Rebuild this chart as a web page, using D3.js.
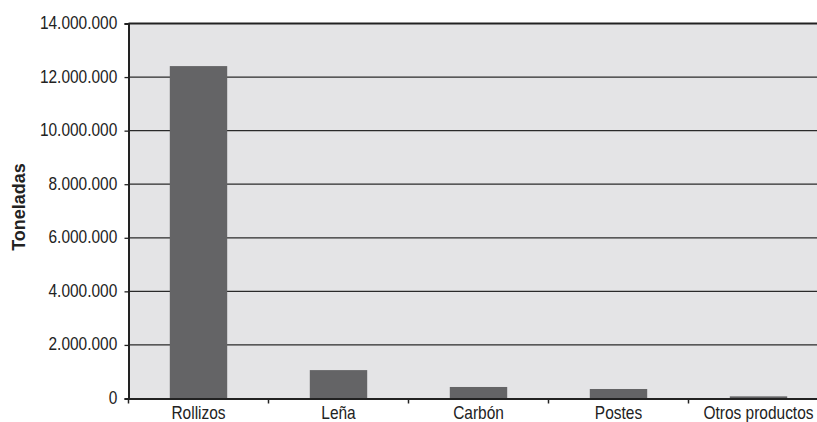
<!DOCTYPE html>
<html><head><meta charset="utf-8">
<script src="https://cdn.jsdelivr.net/npm/d3@7"></script>
<style>html,body{margin:0;padding:0;background:#fff;overflow:hidden}</style>
</head><body>
<svg id="c" width="817" height="422"></svg>
<script>
const categories = ["Rollizos","Leña","Carbón","Postes","Otros productos"];
const values = [12410000, 1060000, 430000, 355000, 80000];
const yTicks = [0,2000000,4000000,6000000,8000000,10000000,12000000,14000000];
const yLabel = "Toneladas";

const svg = d3.select("#c");
const L = 128.5, R = 828.5, T = 23.5, B = 398.5;
const x = d3.scaleBand().domain(categories).range([L, R]).paddingInner(0.59).paddingOuter(0.295);
const y = d3.scaleLinear().domain([0, 14000000]).range([B, T]);
const fmt = v => d3.format(",")(v).replace(/,/g, ".");
const font = "'Liberation Sans',Arial,sans-serif";
const SX = 0.86;

svg.append("rect").attr("x", L).attr("y", T).attr("width", R - L).attr("height", B - T).attr("fill", "#e4e4e6");

// gridlines
svg.append("g").selectAll("line").data(yTicks.filter(d => d > 0 && d < 14000000)).join("line")
  .attr("x1", L).attr("x2", R).attr("y1", d => y(d)).attr("y2", d => y(d))
  .attr("stroke", "#2a2a2a").attr("stroke-width", 1.3);

// bars
svg.append("g").selectAll("rect").data(categories).join("rect")
  .attr("x", d => x(d)).attr("width", x.bandwidth())
  .attr("y", (d, i) => y(values[i])).attr("height", (d, i) => B - y(values[i]))
  .attr("fill", "#646466");

// top border
svg.append("line").attr("x1", L).attr("x2", R).attr("y1", T).attr("y2", T).attr("stroke", "#222").attr("stroke-width", 2);

// y axis
const ya = d3.axisLeft(y).tickValues(yTicks).tickFormat(fmt).tickSize(4).tickPadding(7);
const gy = svg.append("g").attr("transform", `translate(${L},0)`).call(ya);
gy.select(".domain").attr("stroke", "#222").attr("stroke-width", 2);
gy.selectAll(".tick line").attr("stroke", "#222").attr("stroke-width", 1.3);
gy.selectAll(".tick text").attr("font-family", font).attr("font-size", 18).attr("fill", "#222")
  .attr("x", 0).attr("dy", "0.28em").attr("transform", `translate(-11.2,0) scale(${SX},1)`);

// x axis
const xa = d3.axisBottom(x).tickSize(0).tickPadding(10);
const gx = svg.append("g").attr("transform", `translate(0,${B})`).call(xa);
gx.select(".domain").attr("stroke", "#222").attr("stroke-width", 2);
gx.selectAll(".tick text").attr("font-family", font).attr("font-size", 18).attr("fill", "#222")
  .attr("y", 0).attr("dy", 0).attr("transform", `translate(0,20.3) scale(${SX},1)`);
// boundary ticks
const bounds = categories.map(c => x(c) - x.step() * x.paddingInner() / 2).concat([R]);
gx.append("g").selectAll("line").data(bounds).join("line")
  .attr("x1", d => d).attr("x2", d => d).attr("y1", 0).attr("y2", 5)
  .attr("stroke", "#222").attr("stroke-width", 1.5);

// y label
svg.append("text").attr("transform", "translate(25,207) rotate(-90)")
  .attr("text-anchor", "middle").attr("font-family", font)
  .attr("font-weight", "bold").attr("font-size", 18).attr("fill", "#222").text(yLabel);
</script>
</body></html>
